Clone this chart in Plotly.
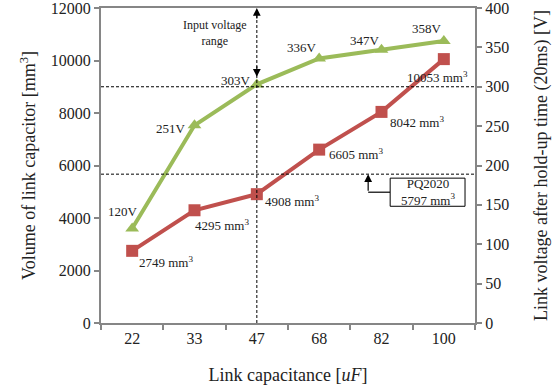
import plotly.graph_objects as go

categories = ["22", "33", "47", "68", "82", "100"]
volume_mm3 = [2749, 4295, 4908, 6605, 8042, 10053]
voltage_v = [120, 251, 303, 336, 347, 358]
pq2020_line = 5670
voltage_line = 300

RED = "#C0504D"
GREEN = "#9BBB59"
AX = "#868686"
FONT = "Liberation Serif, Times New Roman, serif"

fig = go.Figure()
fig.add_trace(go.Scatter(x=categories, y=voltage_v, yaxis="y2", mode="lines+markers",
                         line=dict(color=GREEN, width=4),
                         marker=dict(symbol="triangle-up", size=12, color=GREEN),
                         showlegend=False, cliponaxis=False))
fig.add_trace(go.Scatter(x=categories, y=volume_mm3, mode="lines+markers",
                         line=dict(color=RED, width=4),
                         marker=dict(symbol="square", size=12, color=RED),
                         showlegend=False, cliponaxis=False))

ann = []
red_off = [(5, -11, "left"), (-2, -15, "left"), (6, -7, "left"), (8, -4, "left"), (6, -10, "left"), (-6, -18, "center")]
for i, (v, (dx, dy, xa)) in enumerate(zip(volume_mm3, red_off)):
    ann.append(dict(x=i, y=v, xref="x", yref="y", text=f"{v} mm<sup>3</sup>", showarrow=False,
                    xanchor=xa, yanchor="middle", xshift=dx, yshift=dy,
                    font=dict(family=FONT, size=13, color="#222")))
green_off = [(8, 17), (-7, -3), (-4, 4), (0, 11), (0, 9), (0, 13)]
for i, (v, (dx, dy)) in enumerate(zip(voltage_v, green_off)):
    ann.append(dict(x=i, y=v, xref="x", yref="y2", text=f"{v}V", showarrow=False,
                    xanchor="right", yanchor="middle", xshift=dx, yshift=dy,
                    font=dict(family=FONT, size=13, color="#222")))

ann.append(dict(x=1.33, y=11050, xref="x", yref="y", text="Input voltage<br>range", showarrow=False,
                font=dict(family=FONT, size=12, color="#222"), align="center"))
ann.append(dict(x=2, y=12000, xref="x", yref="y", text="", showarrow=True, ax=0, ay=12,
                arrowhead=2, arrowsize=1.3, arrowwidth=1.2, arrowcolor="black"))
ann.append(dict(x=2, y=9380, xref="x", yref="y", text="", showarrow=True, ax=0, ay=-12,
                arrowhead=2, arrowsize=1.3, arrowwidth=1.2, arrowcolor="black"))
ann.append(dict(x=3.786, y=pq2020_line, xref="x", yref="y", text="", showarrow=True,
                axref="x", ayref="y", ax=3.786, ay=4983,
                arrowhead=2, arrowsize=1.3, arrowwidth=1.2, arrowcolor="black"))
ann.append(dict(x=4.74, y=4983, xref="x", yref="y", text="PQ2020<br>5797 mm<sup>3</sup>", showarrow=False,
                font=dict(family=FONT, size=13, color="#222"), align="center"))

shapes = [
    dict(type="line", xref="paper", yref="y", x0=0, x1=1, y0=voltage_line * 30, y1=voltage_line * 30,
         line=dict(color="black", width=1, dash="3px,2px")),
    dict(type="line", xref="paper", yref="y", x0=0, x1=1, y0=pq2020_line, y1=pq2020_line,
         line=dict(color="black", width=1, dash="3px,2px")),
    dict(type="line", xref="x", yref="y", x0=2, x1=2, y0=0, y1=12000,
         line=dict(color="black", width=1, dash="3px,2px")),
    dict(type="line", xref="x", yref="y", x0=3.786, x1=4.139, y0=4983, y1=4983,
         line=dict(color="black", width=1.2)),
    dict(type="rect", xref="x", yref="y", x0=4.139, x1=5.34, y0=4447, y1=5518,
         line=dict(color="black", width=1), fillcolor="white", layer="above"),
]

fig.update_layout(
    width=560, height=392,
    margin=dict(l=101, r=85, t=8, b=69),
    paper_bgcolor="white", plot_bgcolor="white",
    font=dict(family=FONT, size=16, color="#222"),
    xaxis=dict(type="category", range=[-0.5, 5.5], showline=True, linecolor=AX, linewidth=2,
               mirror=True, ticks="outside", tickson="boundaries", ticklen=5, tickcolor=AX,
               tickwidth=2, showgrid=False, zeroline=False, automargin=False,
               title=dict(text="Link capacitance [<i>uF</i>]", font=dict(size=18), standoff=22)),
    yaxis=dict(range=[0, 12000], dtick=2000, tickformat="d", showline=True, linecolor=AX, linewidth=2,
               ticks="outside", ticklen=5, tickcolor=AX, tickwidth=2, showgrid=False, zeroline=False,
               automargin=False, ticklabeloverflow="allow",
               title=dict(text="Volume of link capacitor [mm<sup>3</sup>]", font=dict(size=18), standoff=10)),
    yaxis2=dict(range=[0, 400], dtick=50, overlaying="y", side="right", showline=True, linecolor=AX,
                linewidth=2, ticks="outside", ticklen=5, tickcolor=AX, tickwidth=2, showgrid=False,
                zeroline=False, automargin=False, ticklabeloverflow="allow",
                title=dict(text="Link voltage after hold-up time (20ms) [V]", font=dict(size=18), standoff=26)),
    annotations=ann, shapes=shapes,
)

fig.write_html("out.html")
